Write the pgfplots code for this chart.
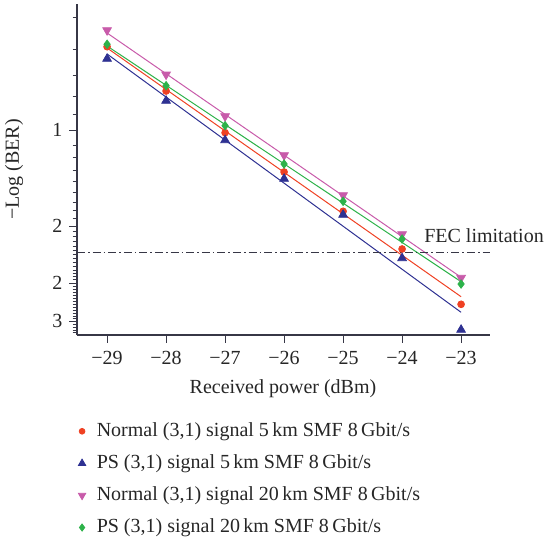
\documentclass[border=0pt]{standalone}
\usepackage{fontspec}
\setmainfont{Liberation Serif}
\usepackage{pgfplots}
\pgfplotsset{compat=1.18}

\definecolor{cred}{RGB}{239,65,35}
\definecolor{cblue}{RGB}{46,49,146}
\definecolor{cmag}{RGB}{200,91,170}
\definecolor{cgreen}{RGB}{45,178,74}
\definecolor{caxis}{RGB}{55,55,70}

% y values: height above the bottom of the plot (reference pixels, 1 px = 0.5 pt)
\begin{document}
\begin{tikzpicture}
\useasboundingbox (-38.5pt,-103.5pt) rectangle (238pt,167.5pt);
\begin{axis}[
  at={(0pt,0pt)}, anchor=south west,
  scale only axis, width=206.5pt, height=165.5pt,
  xmin=-29.51, xmax=-22.51,
  ymin=0, ymax=331,
  axis x line*=bottom, axis y line*=left,
  axis line style={caxis, line width=0.6pt},
  tick style={caxis, line width=0.5pt},
  tick align=outside,
  major tick length=3.75pt, minor tick length=2.2pt,
  xtick={-29,-28,-27,-26,-25,-24,-23},
  xticklabels={−29,−28,−27,−26,−25,−24,−23},
  xticklabel style={yshift=-0.8pt},
  ytick={205,109,52,14},
  yticklabels={1,2,2,3},
  minor ytick={318,286,260,239,221,190,178,165,154,143,133,125,117,
    104,99,94,89,85,81,77,73,69,65,62,59,56,
    49,46,43,40,37,34,31,28,25,22,19,16.5,11,8,5,3},
  ticklabel style={font=\fontsize{10}{12}\selectfont, text=black!85},
  xlabel={Received power (dBm)},
  ylabel={−Log (BER)},
  xlabel style={at={(axis description cs:0.4988,-0.163)}, anchor=center},
  ylabel style={at={(axis description cs:-0.1525,0.5)}, anchor=center},
  label style={font=\fontsize{10}{12}\selectfont, text=black!85},
  clip=false,
  legend cell align=left,
  legend style={draw=none, fill=none, at={(axis description cs:0,-0.24)},
    xshift=-2.5pt,
    anchor=north west, font=\fontsize{10}{12}\selectfont,
    row sep=3.6pt, text=black!85,
    /tikz/every odd column/.append style={column sep=3.5pt}},
  legend image code/.code={\draw[#1,scale=0.85] plot coordinates {(0pt,0pt)};},
]
% fitted lines
\addplot[cred, line width=0.5pt, forget plot] coordinates {(-29,287) (-23,38.3)};
\addplot[cblue, line width=0.5pt, forget plot] coordinates {(-29,281) (-23,22.7)};
\addplot[cmag, line width=0.5pt, forget plot] coordinates {(-29,302) (-23,57.7)};
\addplot[cgreen, line width=0.5pt, forget plot] coordinates {(-29,289) (-23,53.3)};
% FEC limit
\addplot[caxis, line width=0.5pt, dash pattern=on 4pt off 1.5pt on 0.8pt off 1.5pt, forget plot]
  coordinates {(-29.51,83) (-22.51,83)};
\node[anchor=west, inner sep=0pt, font=\fontsize{10}{12}\selectfont, text=black!85]
  at (axis cs:-23.63,99) {FEC limitation};
% measured points
\addplot[only marks, mark=*, mark size=1.7pt, color=cred] coordinates {
(-29,288.3) (-28,244) (-27,202.3) (-26,163) (-25,123.7) (-24,86) (-23,30.7)};
\addlegendentry{Normal (3,1) signal 5\,km SMF 8\,Gbit/s}
\addplot[only marks, mark=triangle*, mark size=2.5pt, color=cblue] coordinates {
(-29,276.2) (-28,234.2) (-27,194.8) (-26,156.2) (-25,120.2) (-24,76.8) (-23,5.2)};
\addlegendentry{PS (3,1) signal 5\,km SMF 8\,Gbit/s}
\addplot[only marks, mark=triangle*, mark size=2.5pt, mark options={rotate=180}, color=cmag] coordinates {
(-29,304.8) (-28,260.5) (-27,218.8) (-26,179.8) (-25,139.8) (-24,100.8) (-23,57.2)};
\addlegendentry{Normal (3,1) signal 20\,km SMF 8\,Gbit/s}
\addplot[only marks, mark=diamond*, mark size=2.1pt, color=cgreen] coordinates {
(-29,290.7) (-28,249.3) (-27,209.3) (-26,171) (-25,133.7) (-24,96) (-23,51)};
\addlegendentry{PS (3,1) signal 20\,km SMF 8\,Gbit/s}
\end{axis}
\end{tikzpicture}
\end{document}
